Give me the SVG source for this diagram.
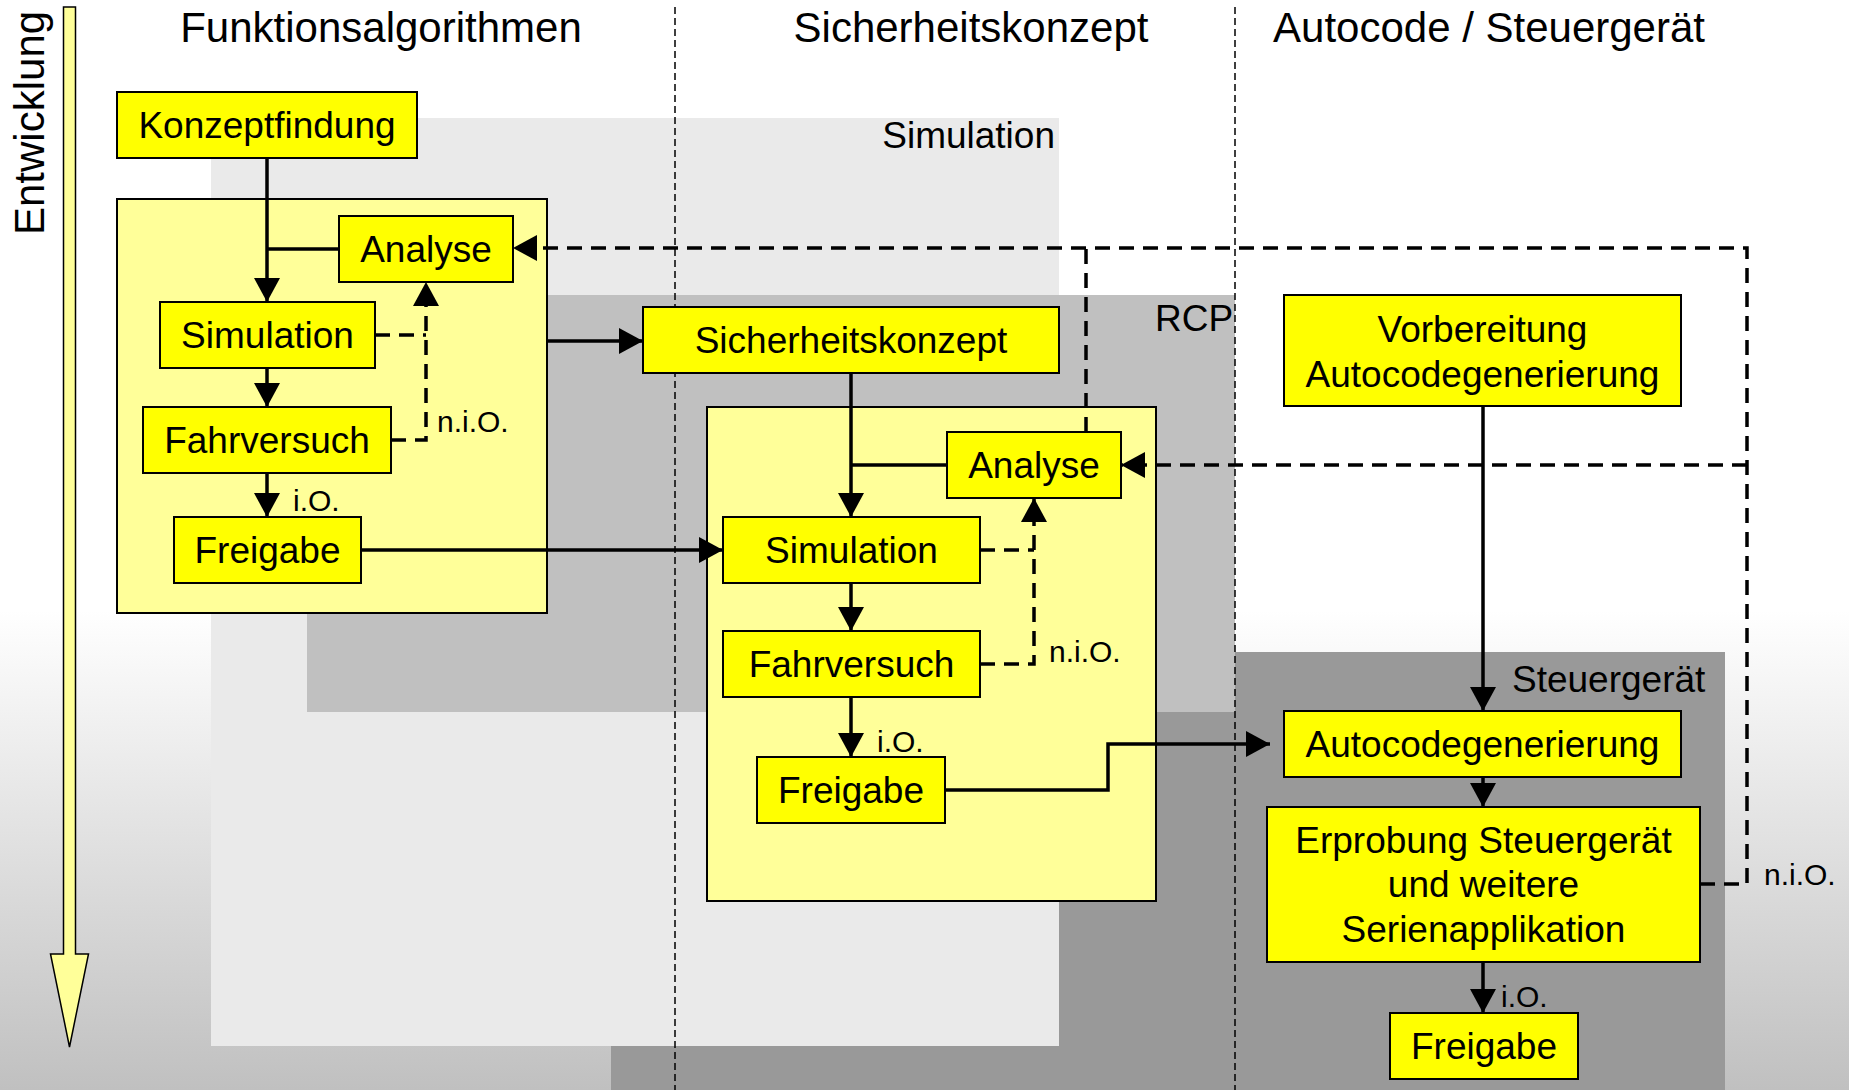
<svg xmlns="http://www.w3.org/2000/svg" width="1849" height="1090" viewBox="0 0 1849 1090">
<defs>
<linearGradient id="bgGrad" x1="0" y1="0" x2="0" y2="1090" gradientUnits="userSpaceOnUse">
<stop offset="0" stop-color="#FFFFFF"/>
<stop offset="0.56" stop-color="#FFFFFF"/>
<stop offset="1" stop-color="#C0C0C0"/>
</linearGradient>
<marker id="ah" markerUnits="userSpaceOnUse" markerWidth="26" markerHeight="26" viewBox="0 0 24 26" refX="24" refY="13" orient="auto">
<path d="M0,0 L24,13 L0,26 z" fill="#000"/>
</marker>
</defs>
<style>
text{font-family:"Liberation Sans",Arial,sans-serif;fill:#000}
.title{font-size:42px;text-anchor:middle}
.bt{font-size:37px;text-anchor:middle}
.lbl{font-size:37px}
.sm{font-size:30px}
.box{fill:#FFFF00;stroke:#000;stroke-width:2}
.cont{fill:#FFFF99;stroke:#000;stroke-width:2}
.div{stroke:#000;stroke-width:1.5;stroke-dasharray:7 4;fill:none}
.c{stroke:#000;stroke-width:3.5;fill:none}
.d{stroke:#000;stroke-width:3.5;fill:none;stroke-dasharray:15 9}
.arr{marker-end:url(#ah)}
</style>

<g id="background">
<rect x="0" y="0" width="1849" height="1090" fill="url(#bgGrad)"/>
<rect id="bg-steuergeraet" x="611" y="652" width="1114" height="438" fill="#999999"/>
<rect id="bg-simulation" x="211" y="118" width="848" height="928" fill="#EAEAEA"/>
<rect id="bg-rcp" x="307" y="295" width="928" height="417" fill="#C0C0C0"/>
<text class="lbl" x="1055" y="148" text-anchor="end">Simulation</text>
<text class="lbl" x="1155" y="331">RCP</text>
<text class="lbl" x="1512" y="692">Steuergerät</text>
</g>

<g id="dividers">
<line class="div" x1="675" y1="7" x2="675" y2="1090"/>
<line class="div" x1="1235" y1="7" x2="1235" y2="1090"/>
</g>

<g id="titles">
<text class="title" x="381" y="42">Funktionsalgorithmen</text>
<text class="title" x="971" y="42">Sicherheitskonzept</text>
<text class="title" x="1489" y="42">Autocode / Steuergerät</text>
</g>

<g id="entwicklung">
<polygon points="63.5,7 75.5,7 75.5,954 88.5,954 69.5,1047 50.5,954 63.5,954" fill="#FFFF99" stroke="#000" stroke-width="1.5"/>
<text x="44" y="235" font-size="42" transform="rotate(-90 44 235)">Entwicklung</text>
</g>

<g id="containers">
<rect id="cont-left" class="cont" x="117" y="199" width="430" height="414"/>
<rect id="cont-mid" class="cont" x="707" y="407" width="449" height="494"/>
</g>

<g id="connectors">
<path class="c arr" d="M267,158 V302"/>
<path class="c" d="M339,249 H267"/>
<path class="c arr" d="M267,368 V407"/>
<path class="c arr" d="M267,473 V517"/>
<path class="c arr" d="M547,341 H643"/>
<path class="c arr" d="M361,550 H723"/>
<path class="c arr" d="M851,373 V517"/>
<path class="c" d="M947,465 H851"/>
<path class="c arr" d="M851,583 V631"/>
<path class="c arr" d="M851,697 V757"/>
<path class="c arr" d="M945,790 H1108 V744 H1270"/>
<path class="c arr" d="M1483,406 V711"/>
<path class="c arr" d="M1483,777 V807"/>
<path class="c arr" d="M1483,962 V1013"/>
<path class="d" d="M375,335 H426"/>
<path class="d arr" d="M391,440 H426 V282"/>
<path class="d" d="M980,550 H1034"/>
<path class="d arr" d="M980,664 H1034 V498"/>
<path class="d arr" d="M1700,884 H1747 V248 H513"/>
<path class="d arr" d="M1747,465 H1121"/>
<path class="d" d="M1086,432 V248"/>
</g>

<g id="labels">
<text class="sm" x="293" y="511">i.O.</text>
<text class="sm" x="437" y="432">n.i.O.</text>
<text class="sm" x="877" y="752">i.O.</text>
<text class="sm" x="1049" y="662">n.i.O.</text>
<text class="sm" x="1501" y="1007">i.O.</text>
<text class="sm" x="1764" y="885">n.i.O.</text>
</g>

<g id="n-konzeptfindung"><rect class="box" x="117" y="92" width="300" height="66"/><text class="bt" x="267" y="138">Konzeptfindung</text></g>
<g id="n-analyse1"><rect class="box" x="339" y="216" width="174" height="66"/><text class="bt" x="426" y="262">Analyse</text></g>
<g id="n-simulation1"><rect class="box" x="160" y="302" width="215" height="66"/><text class="bt" x="267.5" y="348">Simulation</text></g>
<g id="n-fahrversuch1"><rect class="box" x="143" y="407" width="248" height="66"/><text class="bt" x="267" y="453">Fahrversuch</text></g>
<g id="n-freigabe1"><rect class="box" x="174" y="517" width="187" height="66"/><text class="bt" x="267.5" y="563">Freigabe</text></g>

<g id="n-sicherheitskonzept"><rect class="box" x="643" y="307" width="416" height="66"/><text class="bt" x="851" y="353">Sicherheitskonzept</text></g>
<g id="n-analyse2"><rect class="box" x="947" y="432" width="174" height="66"/><text class="bt" x="1034" y="478">Analyse</text></g>
<g id="n-simulation2"><rect class="box" x="723" y="517" width="257" height="66"/><text class="bt" x="851.5" y="563">Simulation</text></g>
<g id="n-fahrversuch2"><rect class="box" x="723" y="631" width="257" height="66"/><text class="bt" x="851.5" y="677">Fahrversuch</text></g>
<g id="n-freigabe2"><rect class="box" x="757" y="757" width="188" height="66"/><text class="bt" x="851" y="803">Freigabe</text></g>

<g id="n-vorbereitung"><rect class="box" x="1284" y="295" width="397" height="111"/><text class="bt" x="1482.5" y="342">Vorbereitung</text><text class="bt" x="1482.5" y="387">Autocodegenerierung</text></g>
<g id="n-autocode"><rect class="box" x="1284" y="711" width="397" height="66"/><text class="bt" x="1482.5" y="757">Autocodegenerierung</text></g>
<g id="n-erprobung"><rect class="box" x="1267" y="807" width="433" height="155"/><text class="bt" x="1483.5" y="853">Erprobung Steuergerät</text><text class="bt" x="1483.5" y="897">und weitere</text><text class="bt" x="1483.5" y="942">Serienapplikation</text></g>
<g id="n-freigabe3"><rect class="box" x="1390" y="1013" width="188" height="66"/><text class="bt" x="1484" y="1059">Freigabe</text></g>
</svg>
